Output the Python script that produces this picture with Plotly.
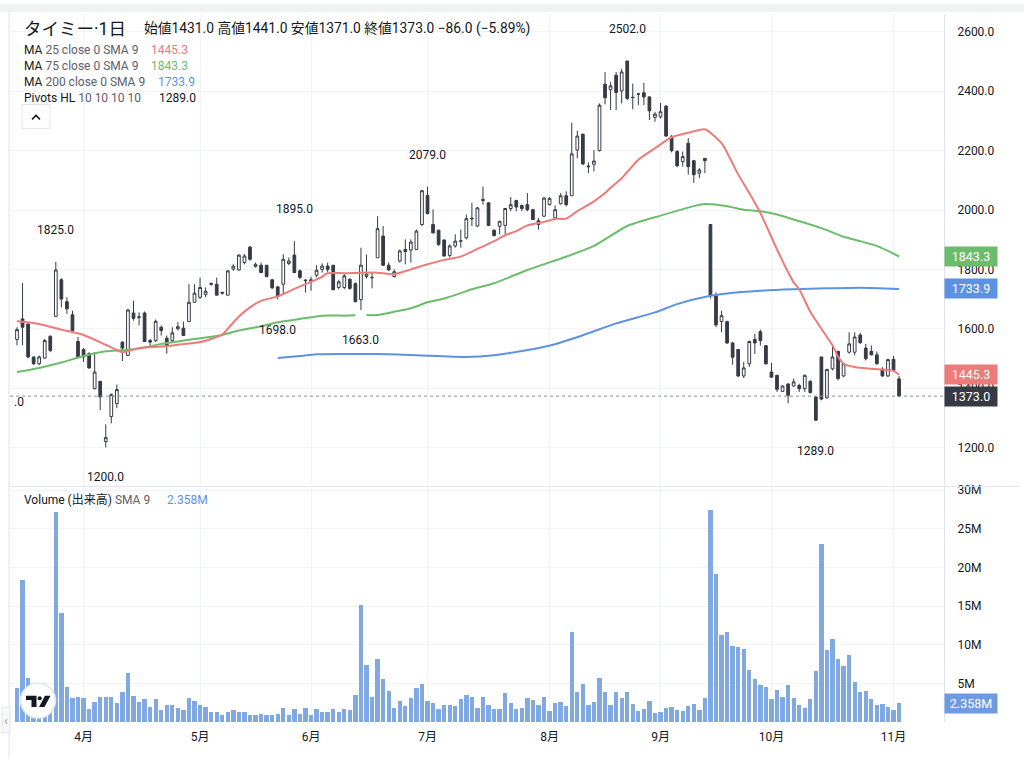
import plotly.graph_objects as go

# ---------------- data ----------------
bar_index = list(range(1, 161))

opens = [1564,1633,1616,1505,1482,1501,1575,1642,1765,1691,
         1647,1557,1530,1516,1398,1423,1220,1304,1348,1555,
         1510,1653,1638,1653,1560,1560,1605,1568,1560,1600,
         1602,1624,1689,1706,1715,1752,1750,1722,1713,1801,
         1798,1823,1875,1810,1814,1814,1765,1741,1750,1820,
         1848,1795,1764,1760,1780,1800,1811,1814,1739,1739,
         1767,1752,1698,1776,1773,1839,1912,1814,1776,1828,
         1867,1865,1867,1951,2049,1951,1932,1899,1847,1879,
         1895,1906,1970,1946,2032,2024,1932,1945,1948,2005,
         2032,2015,2018,2001,1964,1979,2018,1973,2021,2048,
         2048,2202,2255,2148,2154,2200,2424,2406,2454,2401,
         2502,2380,2391,2395,2381,2312,2314,2350,2247,2197,
         2163,2225,2166,2124,2174,1951,1713,1624,1624,1552,
         1530,1441,1482,1564,1590,1543,1454,1443,1389,1414,
         1407,1409,1398,1423,1370,1505,1367,1465,1524,1441,
         1521,1521,1579,1535,1524,1512,1463,1441,1497,1431]
highs = [1605,1754,1616,1505,1510,1566,1577,1825,1770,1706,
         1661,1572,1535,1521,1521,1423,1278,1382,1412,1557,
         1667,1694,1655,1658,1566,1631,1611,1577,1605,1622,
         1624,1750,1750,1772,1739,1756,1772,1725,1797,1817,
         1851,1851,1879,1823,1823,1814,1767,1745,1851,1840,
         1895,1800,1767,1775,1814,1820,1823,1814,1765,1784,
         1769,1756,1873,1850,1789,1979,1946,1823,1800,1867,
         1901,1901,1934,2068,2079,2002,1932,1901,1884,1918,
         1934,1985,2024,2010,2079,2026,1934,1962,2007,2044,
         2035,2018,2057,2004,1973,2044,2044,2015,2057,2063,
         2294,2267,2258,2160,2202,2359,2465,2431,2465,2476,
         2502,2426,2395,2428,2383,2331,2361,2353,2253,2202,
         2197,2242,2169,2141,2174,1951,1722,1661,1627,1555,
         1532,1488,1560,1583,1597,1543,1485,1445,1409,1416,
         1432,1415,1445,1426,1372,1505,1465,1544,1524,1482,
         1588,1588,1586,1549,1544,1523,1471,1499,1508,1441]
lows = [1544,1544,1500,1478,1477,1499,1521,1640,1672,1650,
        1588,1501,1488,1465,1396,1326,1200,1281,1332,1491,
        1508,1627,1611,1555,1538,1555,1577,1516,1555,1594,
        1577,1624,1689,1700,1706,1745,1713,1715,1713,1795,
        1795,1817,1829,1806,1789,1773,1733,1698,1717,1814,
        1789,1767,1722,1728,1773,1789,1789,1731,1733,1733,
        1731,1689,1663,1769,1736,1839,1811,1795,1772,1823,
        1817,1823,1865,1946,1985,1921,1879,1843,1840,1873,
        1873,1901,1946,1943,2018,1946,1910,1918,1918,1996,
        1996,1996,1996,1966,1934,1977,2015,1968,2018,2012,
        2048,2175,2152,2124,2130,2197,2356,2337,2337,2359,
        2370,2339,2353,2353,2303,2297,2308,2247,2194,2144,
        2146,2119,2091,2107,2124,1702,1605,1588,1549,1479,
        1437,1434,1471,1515,1543,1479,1434,1387,1387,1349,
        1404,1387,1387,1382,1289,1359,1365,1460,1426,1437,
        1516,1510,1549,1493,1510,1479,1437,1437,1456,1371]
closes = [1597,1605,1505,1482,1505,1560,1527,1798,1700,1667,
          1594,1505,1505,1468,1454,1370,1233,1378,1395,1535,
          1663,1635,1640,1557,1555,1625,1594,1540,1586,1607,
          1577,1689,1720,1739,1726,1750,1713,1720,1795,1811,
          1848,1845,1834,1817,1789,1776,1738,1709,1834,1828,
          1789,1773,1762,1765,1797,1811,1800,1731,1758,1778,
          1736,1691,1814,1784,1772,1937,1814,1798,1792,1862,
          1860,1892,1929,2065,1988,1923,1884,1845,1879,1895,
          1896,1971,1972,2007,2035,1948,1914,1962,2005,2018,
          2010,2005,2001,1968,1951,2040,2039,2001,2048,2018,
          2189,2249,2155,2146,2165,2353,2378,2418,2396,2465,
          2376,2379,2390,2381,2334,2323,2331,2249,2200,2149,
          2180,2146,2119,2135,2166,1711,1613,1644,1552,1504,
          1441,1468,1557,1552,1560,1482,1437,1396,1407,1376,
          1421,1398,1443,1385,1292,1363,1463,1505,1432,1482,
          1549,1572,1553,1499,1512,1482,1441,1496,1460,1373]
volume_m = [4.3,18.3,5.6,3.8,3.0,2.8,3.5,27.2,14.1,4.5,
            3.0,3.2,3.0,1.7,2.5,3.2,3.2,3.2,2.4,3.8,
            6.3,3.3,2.6,2.9,1.9,2.9,1.5,2.1,2.1,1.8,
            1.5,3.0,2.7,2.1,1.9,1.3,1.2,0.8,1.3,1.5,
            1.2,1.2,0.9,0.9,1.0,0.8,0.8,1.0,1.8,0.8,
            1.7,1.0,1.8,0.9,1.7,1.2,1.2,1.6,1.3,1.6,
            1.5,3.4,15.1,7.3,3.2,8.1,5.5,4.0,1.8,2.7,
            2.0,3.1,4.4,4.9,2.7,2.4,1.7,2.1,2.1,2.0,
            2.9,3.5,3.2,1.8,3.2,2.1,1.6,1.6,3.7,2.4,
            1.7,1.8,3.0,2.8,2.1,3.2,1.4,2.4,2.6,2.0,
            11.6,3.9,4.9,2.1,2.5,5.6,3.9,2.2,3.9,3.1,
            3.8,2.3,1.4,1.7,2.7,1.1,1.3,1.8,1.9,1.5,
            1.4,2.0,2.3,1.5,3.1,27.4,19.1,11.2,11.6,9.8,
            9.7,9.4,6.7,5.5,4.8,4.5,2.9,4.1,3.2,4.8,
            3.0,2.1,1.8,2.9,6.6,23.0,9.3,10.7,8.1,7.2,
            8.6,5.1,3.9,4.0,2.9,2.1,2.3,1.9,1.5,2.358]

month_bars = [13, 34, 54, 75, 97, 117, 137, 159]
month_labels = ["4月", "5月", "6月", "7月", "8月", "9月", "10月", "11月"]
price_ticks = [1200, 1400, 1600, 1800, 2000, 2200, 2400, 2600]
volume_ticks_m = [5, 10, 15, 20, 25, 30]

ma25_bars = [1,5,9,13,17,20,23,27,30,34,38,39,41,43,45,48,51,54,56,57,60,63,66,69,72,75,78,81,83,87,89,91,93,96,98,100,102,105,107,108,110,113,116,119,122,125,128,131,133,135,138,140,141,142,144,146,148,149,150,152,155,158,159,160]
ma25_vals = [1625,1616,1597,1579,1546,1521,1535,1540,1546,1555,1580,1600,1641,1672,1694,1709,1734,1758,1775,1787,1787,1789,1789,1784,1800,1817,1832,1843,1860,1895,1915,1929,1948,1960,1970,1971,1996,2029,2057,2075,2107,2169,2208,2245,2260,2272,2225,2120,2057,1990,1867,1790,1756,1733,1657,1600,1544,1506,1482,1471,1465,1462,1458,1445.3]

ma75_bars = [1,5,9,13,17,20,23,27,30,34,38,41,45,48,52,56,60,62,63,64,66,69,72,75,78,81,83,87,93,99,105,111,117,123,125,129,132,135,138,141,144,147,150,153,156,158,160]
ma75_vals = [1454,1468,1486,1508,1524,1528,1533,1549,1557,1568,1579,1594,1608,1622,1633,1644,1644,1645,None,1646,1646,1657,1669,1689,1702,1720,1733,1753,1798,1836,1879,1946,1981,2013,2020,2013,2001,1996,1985,1968,1951,1932,1910,1895,1879,1862,1843.3]

ma200_bars = [48,52,55,60,66,73,82,87,92,98,103,109,116,120,126,129,135,141,147,153,160]
ma200_vals = [1501,1508,1514,1515,1515,1511,1505,1511,1525,1548,1578,1618,1655,1683,1711,1719,1728,1733,1736,1738,1733.9]

pivot_bars = [8, 17, 48, 51, 63, 75, 111, 145]
pivot_prices = [1825.0, 1200.0, 1698.0, 1895.0, 1663.0, 2079.0, 2502.0, 1289.0]
pivot_is_high = [True, False, False, True, False, True, True, False]

header_title = "タイミー·1日"
header_ohlc = "始値1431.0 高値1441.0 安値1371.0 終値1373.0 −86.0 (−5.89%)"
last_close = 1373.0
ma25_last, ma75_last, ma200_last = 1445.3, 1843.3, 1733.9
pivot_last = 1289.0
volume_last_text = "2.358M"

# ---------------- layout helpers ----------------
W, H = 1024, 759
ML, MR, MT, MB = 10, 80, 10, 37
PW, PH = W - ML - MR, H - MT - MB


def px(x):
    return (x - ML) / PW


def py(y):
    return (H - MB - y) / PH


FONT = "Roboto, 'Noto Sans', 'Noto Sans CJK JP', sans-serif"
TXT = "#131722"
GRID = "#f0f3fa"
C_RED, C_GREEN, C_BLUE = "#ef7a7a", "#6bbd6b", "#5b93e2"
C_CANDLE = "#363a45"
C_VOL = "#80a9e2"

fig = go.Figure()

fig.add_trace(go.Candlestick(
    x=bar_index, open=opens, high=highs, low=lows, close=closes,
    increasing=dict(line=dict(color=C_CANDLE, width=1), fillcolor="#ffffff"),
    decreasing=dict(line=dict(color=C_CANDLE, width=1), fillcolor=C_CANDLE),
    whiskerwidth=0, xaxis="x", yaxis="y", showlegend=False, hoverinfo="skip"))

for bx, vals, col in [(ma200_bars, ma200_vals, C_BLUE),
                      (ma75_bars, ma75_vals, C_GREEN),
                      (ma25_bars, ma25_vals, C_RED)]:
    fig.add_trace(go.Scatter(x=bx, y=vals, mode="lines",
                             line=dict(color=col, width=2, shape="spline", smoothing=0.6),
                             connectgaps=False, xaxis="x", yaxis="y",
                             showlegend=False, hoverinfo="skip"))

fig.add_trace(go.Bar(x=bar_index, y=volume_m, marker=dict(color=C_VOL, line=dict(width=0)),
                     width=0.78, xaxis="x2", yaxis="y2", showlegend=False, hoverinfo="skip"))

xr = [-0.26, 168.1]
fig.update_layout(
    width=W, height=H, margin=dict(l=ML, r=MR, t=MT, b=MB),
    paper_bgcolor="#ffffff", plot_bgcolor="#ffffff",
    font=dict(family=FONT, color=TXT, size=12),
    bargap=0, hovermode=False,
    xaxis=dict(domain=[0, 1], range=xr, anchor="y", rangeslider=dict(visible=False),
               tickvals=month_bars, showticklabels=False, showgrid=True, gridcolor=GRID,
               zeroline=False, showline=False, ticks=""),
    xaxis2=dict(domain=[0, 1], range=xr, anchor="y2", matches="x",
                tickvals=month_bars, ticktext=month_labels, showgrid=True, gridcolor=GRID,
                zeroline=False, showline=False, ticks="", ticklabelstandoff=6,
                tickfont=dict(size=12, color=TXT)),
    yaxis=dict(domain=[py(484), 1], range=[1072.4, 2660.3], side="right", anchor="x",
               tickvals=price_ticks, ticktext=[f"{v:.1f}" for v in price_ticks],
               showgrid=True, gridcolor=GRID, zeroline=False, showline=True,
               linecolor="#e0e3eb", ticks="", ticklabelstandoff=10,
               tickfont=dict(size=12, color=TXT)),
    yaxis2=dict(domain=[0, py(486)], range=[0, 30.37], side="right", anchor="x2",
                tickvals=volume_ticks_m, ticktext=[f"{v}M" for v in volume_ticks_m],
                showgrid=True, gridcolor=GRID, zeroline=False, showline=True,
                linecolor="#e0e3eb", ticks="", ticklabelstandoff=10,
                tickfont=dict(size=12, color=TXT)),
)

ann = []
shapes = []

# pivot labels
for b, p, hi in zip(pivot_bars, pivot_prices, pivot_is_high):
    ann.append(dict(x=b, y=p, xref="x", yref="y", text=f"{p:.1f}", showarrow=False,
                    xanchor="center", yanchor="middle",
                    yshift=32 if hi else -30, font=dict(size=12, color=TXT)))
# clipped pivot label at left edge
ann.append(dict(x=px(12), y=py(400), xref="paper", yref="paper", text=".0", showarrow=False,
                xanchor="left", yanchor="middle", font=dict(size=12, color=TXT)))

# last price dotted line
shapes.append(dict(type="line", xref="paper", yref="y", x0=0, x1=1, y0=last_close, y1=last_close,
                   line=dict(color="#8a8d96", width=1, dash="dot")))

# right scale value boxes
for val, col, txt, yr in [(ma75_last, C_GREEN, f"{ma75_last:.1f}", "y"),
                          (ma200_last, C_BLUE, f"{ma200_last:.1f}", "y"),
                          (ma25_last, C_RED, f"{ma25_last:.1f}", "y"),
                          (last_close, C_CANDLE, f"{last_close:.1f}", "y"),
                          (volume_m[-1], "#6e9be0", volume_last_text, "y2")]:
    ann.append(dict(x=1.0, y=val, xref="paper", yref=yr, text=txt, showarrow=False,
                    xanchor="left", yanchor="middle", bgcolor=col, width=50, height=17,
                    align="center", font=dict(size=12.5, color="#ffffff")))

# header
ann.append(dict(x=px(22), y=py(25), xref="paper", yref="paper", text=header_title,
                showarrow=False, xanchor="left", yanchor="middle",
                font=dict(size=17.5, color=TXT)))
ann.append(dict(x=px(142), y=py(25), xref="paper", yref="paper", text=header_ohlc,
                showarrow=False, xanchor="left", yanchor="middle",
                font=dict(size=13.8, color=TXT)))

legend_rows = [("MA", " 25 close 0 SMA 9", f"{ma25_last:.1f}", C_RED, 46, 149),
               ("MA", " 75 close 0 SMA 9", f"{ma75_last:.1f}", C_GREEN, 62, 149),
               ("MA", " 200 close 0 SMA 9", f"{ma200_last:.1f}", C_BLUE, 78, 156),
               ("Pivots HL", " 10 10 10 10", f"{pivot_last:.1f}", TXT, 94, 157)]
for name, params, val, col, yy, vx in legend_rows:
    ann.append(dict(x=px(22), y=py(yy), xref="paper", yref="paper",
                    text=f"{name}<span style='color:#5d606b'>{params}</span>",
                    showarrow=False, xanchor="left", yanchor="middle",
                    font=dict(size=12, color=TXT)))
    ann.append(dict(x=px(vx), y=py(yy), xref="paper", yref="paper", text=val,
                    showarrow=False, xanchor="left", yanchor="middle",
                    font=dict(size=12, color=col)))

# volume legend
ann.append(dict(x=px(22), y=py(499), xref="paper", yref="paper",
                text="Volume (出来高)<span style='color:#5d606b'> SMA 9</span>",
                showarrow=False, xanchor="left", yanchor="middle", font=dict(size=12, color=TXT)))
ann.append(dict(x=px(165), y=py(499), xref="paper", yref="paper", text=volume_last_text,
                showarrow=False, xanchor="left", yanchor="middle", font=dict(size=12, color="#5b93e2")))

# collapse button
shapes.append(dict(type="rect", xref="paper", yref="paper", x0=px(22), x1=px(50), y0=py(125), y1=py(101),
                   line=dict(color="#e0e3eb", width=1), fillcolor="#ffffff"))
shapes.append(dict(type="path", xref="paper", yref="paper",
                   path=f"M {px(32)},{py(116)} L {px(36)},{py(112)} L {px(40)},{py(116)}",
                   line=dict(color=TXT, width=1.5)))

# TradingView logo (drawn mark)
shapes.append(dict(type="circle", xref="paper", yref="paper", x0=px(20.5), x1=px(55.5), y0=py(718), y1=py(683),
                   line=dict(color="#e3e5ea", width=1.5), fillcolor="#ffffff"))


def poly(points):
    return "M " + " L ".join(f"{px(a)},{py(b)}" for a, b in points) + " Z"


shapes.append(dict(type="path", xref="paper", yref="paper",
                   path=poly([(26, 695.5), (36.5, 695.5), (36.5, 707), (31.5, 707), (31.5, 700), (26, 700)]),
                   line=dict(width=0), fillcolor="#131722"))
shapes.append(dict(type="circle", xref="paper", yref="paper", x0=px(37.6), x1=px(41.8), y0=py(700.2), y1=py(696),
                   line=dict(width=0), fillcolor="#131722"))
shapes.append(dict(type="path", xref="paper", yref="paper",
                   path=poly([(45, 695.5), (50.5, 695.5), (44.5, 707), (39, 707)]),
                   line=dict(width=0), fillcolor="#131722"))

# frame details
shapes.append(dict(type="rect", xref="paper", yref="paper", x0=px(0), x1=px(1024), y0=py(8), y1=py(0),
                   line=dict(width=0), fillcolor="#f0f1f3", layer="above"))
shapes.append(dict(type="line", xref="paper", yref="paper", x0=px(9), x1=px(9), y0=py(759), y1=py(8),
                   line=dict(color="#e0e3eb", width=1)))
shapes.append(dict(type="line", xref="paper", yref="paper", x0=px(9), x1=px(1020), y0=py(485), y1=py(485),
                   line=dict(color="#e0e3eb", width=1)))
shapes.append(dict(type="rect", xref="paper", yref="paper", x0=px(2), x1=px(10), y0=py(733), y1=py(707),
                   line=dict(color="#e0e3eb", width=1), fillcolor="#f7f8fa"))
ann.append(dict(x=px(6), y=py(720), xref="paper", yref="paper", text="‹", showarrow=False,
                xanchor="center", yanchor="middle", font=dict(size=13, color="#9598a1")))

fig.update_layout(annotations=ann, shapes=shapes)
fig.write_html("out.html", config={"displayModeBar": False},
               post_script="document.body.style.margin='0px';")
